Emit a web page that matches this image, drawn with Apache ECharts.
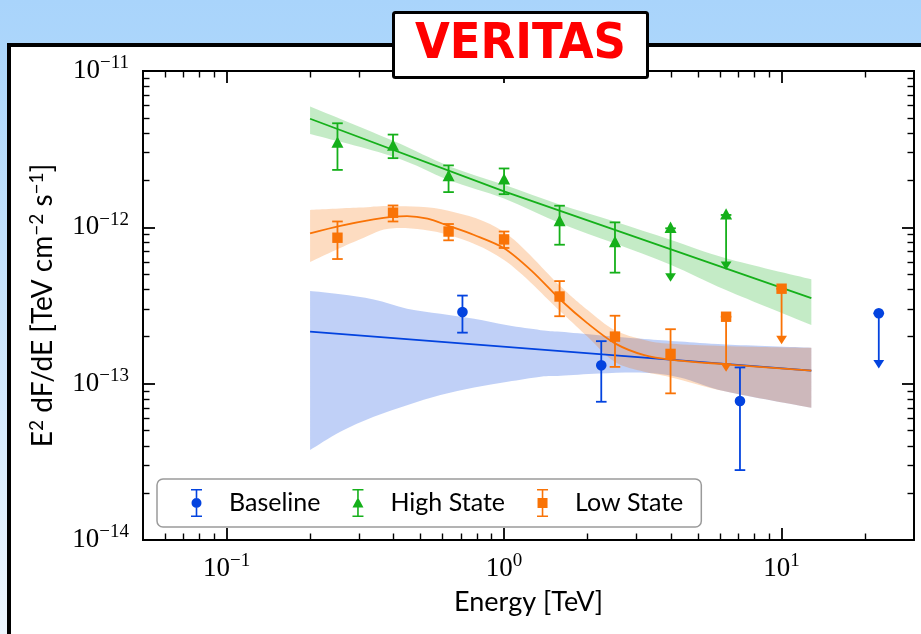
<!DOCTYPE html>
<html><head><meta charset="utf-8">
<script src="https://cdn.jsdelivr.net/npm/echarts@6/dist/echarts.min.js"></script>
<style>
html,body{margin:0;padding:0;}
#wrap{position:relative;width:921px;height:634px;overflow:hidden;background:linear-gradient(to bottom,#a9d4fb 0px,#acd6fb 50px,#eef6fe 634px);}
#frame{position:absolute;left:7px;top:43px;width:960px;height:640px;border:4px solid #000;background:#fff;box-sizing:border-box;}
#chart{position:absolute;left:0;top:0;width:921px;height:634px;}
</style></head>
<body><div id="wrap"><div id="frame"></div><div id="chart"></div></div>
<script>
// ---------------- data (energy in TeV, E^2 dF/dE in TeV cm^-2 s^-1) ----------------
// Baseline (blue)
const baseE    = [0.708, 2.24, 7.08];
const baseF    = [2.87e-13, 1.31e-13, 7.74e-14];
const baseLo   = [2.12e-13, 7.66e-14, 2.8e-14];
const baseHi   = [3.66e-13, 1.87e-13, 1.27e-13];
const baseUlE  = [22.4];
const baseUl   = [2.82e-13];
const baseUlTip= [1.25e-13];
// High State (green)
const highE    = [0.251, 0.398, 0.631, 1.0, 1.585, 2.51];
const highF    = [3.45e-12, 3.31e-12, 2.11e-12, 2.01e-12, 1.088e-12, 7.98e-13];
const highLo   = [2.33e-12, 2.77e-12, 1.68e-12, 1.63e-12, 7.74e-13, 5.13e-13];
const highHi   = [4.63e-12, 3.92e-12, 2.49e-12, 2.38e-12, 1.375e-12, 1.076e-12];
const highUlE  = [3.98, 6.31];
const highUl   = [9.86e-13, 1.2e-12];
const highUlTip= [4.49e-13, 5.33e-13];
// Low State (orange)
const lowE     = [0.251, 0.398, 0.631, 1.0, 1.585, 2.51, 3.98];
const lowF     = [8.58e-13, 1.24e-12, 9.4e-13, 8.37e-13, 3.61e-13, 2.0e-13, 1.55e-13];
const lowLo    = [6.27e-13, 1.09e-12, 8.26e-13, 7.38e-13, 2.70e-13, 1.28e-13, 8.67e-14];
const lowHi    = [1.09e-12, 1.38e-12, 1.05e-12, 9.4e-13, 4.53e-13, 2.72e-13, 2.23e-13];
const lowUlE   = [6.31, 10.0];
const lowUl    = [2.68e-13, 4.05e-13];
const lowUlTip = [1.19e-13, 1.79e-13];

// fitted models
const baseFitE = [0.2, 12.8];
const baseFitF = [2.153e-13, 1.21e-13];
const highFitE = [0.2, 1.0, 12.8];
const highFitF = [4.95e-12, 1.70e-12, 3.52e-13];
const lowFitE  = [0.2, 0.257, 0.339, 0.4, 0.447, 0.53, 0.63, 0.78, 1.0, 1.26, 1.6, 2.0, 2.51, 3.2, 4.0, 6.3, 12.8];
const lowFitF  = [9.16e-13, 1.023e-12, 1.125e-12, 1.17e-12, 1.18e-12, 1.135e-12, 1.023e-12, 8.93e-13, 7.35e-13, 5.25e-13, 3.43e-13, 2.43e-13, 1.81e-13, 1.52e-13, 1.42e-13, 1.33e-13, 1.21e-13];

// confidence bands
const baseBandE  = [0.2, 0.257, 0.339, 0.447, 0.59, 0.78, 1.03, 1.355, 1.6, 2.2, 3.2, 4.3, 6.3, 12.8];
const baseBandHi = [3.908e-13, 3.73e-13, 3.46e-13, 3.02e-13, 2.80e-13, 2.60e-13, 2.36e-13, 2.20e-13, 2.148e-13, 2.04e-13, 1.93e-13, 1.86e-13, 1.78e-13, 1.698e-13];
const baseBandLo = [3.758e-14, 4.92e-14, 6.14e-14, 7.29e-14, 8.45e-14, 9.46e-14, 1.028e-13, 1.107e-13, 1.122e-13, 1.161e-13, 1.175e-13, 1.096e-13, 8.91e-14, 7.015e-14];
const highBandE  = [0.2, 0.4, 0.63, 1.0, 1.6, 2.5, 4.0, 6.3, 12.8];
const highBandHi = [5.92e-12, 3.56e-12, 2.47e-12, 1.87e-12, 1.39e-12, 1.09e-12, 8.30e-13, 6.34e-13, 4.65e-13];
const highBandLo = [3.95e-12, 2.83e-12, 2.01e-12, 1.53e-12, 1.06e-12, 7.91e-13, 5.74e-13, 3.97e-13, 2.37e-13];
const lowBandE   = [0.2, 0.3, 0.4, 0.63, 1.0, 1.6, 2.0, 2.5, 3.2, 4.0, 6.3, 12.8];
const lowBandHi  = [1.29e-12, 1.337e-12, 1.368e-12, 1.279e-12, 9.333e-13, 4.178e-13, 2.958e-13, 2.203e-13, 1.905e-13, 1.799e-13, 1.738e-13, 1.698e-13];
const lowBandLo  = [5.998e-13, 8.318e-13, 9.863e-13, 8.933e-13, 6.18e-13, 2.884e-13, 1.995e-13, 1.38e-13, 1.191e-13, 1.096e-13, 8.91e-14, 7.015e-14];

// axes ticks
const xMajorTicks = [0.1, 1, 10];
const xTickExps   = ['−1', '0', '1'];
const xMinorTicks = [0.06, 0.07, 0.08, 0.09, 0.2, 0.3, 0.4, 0.5, 0.6, 0.7, 0.8, 0.9, 2, 3, 4, 5, 6, 7, 8, 9, 20];
const yMajorTicks = [1e-14, 1e-13, 1e-12, 1e-11];
const yTickExps   = ['−14', '−13', '−12', '−11'];
const yMinorTicks = [2e-14,3e-14,4e-14,5e-14,6e-14,7e-14,8e-14,9e-14,2e-13,3e-13,4e-13,5e-13,6e-13,7e-13,8e-13,9e-13,2e-12,3e-12,4e-12,5e-12,6e-12,7e-12,8e-12,9e-12];

// ---------------- styles ----------------
const C_BASE = '#0343df', C_HIGH = '#15b01a', C_LOW = '#f97306';
const serif = 'Liberation Serif';
const sans = 'Lato';
const tickRich = {
  b: {fontFamily: serif, fontSize: 27, lineHeight: 34, color: '#000'},
  s: {fontFamily: serif, fontSize: 19, lineHeight: 18, verticalAlign: 'top', color: '#000'}
};
function nearestIdx(arr, v) {
  let best = 0, bd = Infinity;
  arr.forEach((a, i) => { const d = Math.abs(Math.log10(a) - Math.log10(v)); if (d < bd) { bd = d; best = i; } });
  return best;
}

function axisX(pos, major, labels) {
  return {
    type: 'log', logBase: 10, min: 0.05, max: 30, position: pos, gridIndex: 0,
    axisLine: {show: true, onZero: false, lineStyle: {color: '#000', width: 1.8}},
    axisTick: {show: true, inside: true, length: major ? 12 : 6.5, lineStyle: {color: '#000', width: major ? 1.8 : 1.4},
               customValues: major ? xMajorTicks : xMinorTicks},
    minorTick: {show: false}, splitLine: {show: false}, minorSplitLine: {show: false},
    axisLabel: labels ? {show: true, customValues: xMajorTicks, margin: 12,
      formatter: v => '{b|10}{s|' + xTickExps[nearestIdx(xMajorTicks, v)] + '}', rich: tickRich} : {show: false}
  };
}
function axisY(pos, major, labels) {
  return {
    type: 'log', logBase: 10, min: 1e-14, max: 1e-11, position: pos, gridIndex: 0,
    axisLine: {show: true, onZero: false, lineStyle: {color: '#000', width: 1.8}},
    axisTick: {show: true, inside: true, length: major ? 12 : 6.5, lineStyle: {color: '#000', width: major ? 1.8 : 1.4},
               customValues: major ? yMajorTicks : yMinorTicks},
    minorTick: {show: false}, splitLine: {show: false}, minorSplitLine: {show: false},
    axisLabel: labels ? {show: true, customValues: yMajorTicks, margin: 14,
      formatter: v => '{b|10}{s|' + yTickExps[nearestIdx(yMajorTicks, v)] + '}', rich: tickRich} : {show: false}
  };
}

const xAxes = [axisX('bottom', true, true), axisX('bottom', false, false), axisX('top', true, false), axisX('top', false, false)];
const yAxes = [axisY('left', true, true), axisY('left', false, false), axisY('right', true, false), axisY('right', false, false)];
Object.assign(xAxes[0], {
  name: 'Energy [TeV]', nameLocation: 'middle', nameGap: 49,
  nameTextStyle: {fontFamily: sans, fontSize: 27, color: '#000'}
});
Object.assign(yAxes[0], {
  name: '{t|E}{s|2}{t| dF/dE [TeV cm}{s|−2}{t| s}{s|−1}{t|]}', nameLocation: 'middle', nameGap: 84, nameRotate: 90,
  nameTextStyle: {rich: {
    t: {fontFamily: sans, fontSize: 28, lineHeight: 32, color: '#000'},
    s: {fontFamily: sans, fontSize: 19, lineHeight: 19, verticalAlign: 'top', color: '#000'}
  }}
});

// ---------------- series builders ----------------
function zip(...arrs) { return arrs[0].map((_, i) => arrs.map(a => a[i])); }

// smooth (Catmull-Rom) outline through the projected pixel positions
function curveCmd(pts) {
  let d = '';
  for (let i = 0; i < pts.length - 1; i++) {
    const p0 = pts[Math.max(i - 1, 0)], p1 = pts[i], p2 = pts[i + 1], p3 = pts[Math.min(i + 2, pts.length - 1)];
    const c1x = p1[0] + (p2[0] - p0[0]) / 6, c1y = p1[1] + (p2[1] - p0[1]) / 6;
    const c2x = p2[0] - (p3[0] - p1[0]) / 6, c2y = p2[1] - (p3[1] - p1[1]) / 6;
    d += 'C' + c1x + ',' + c1y + ' ' + c2x + ',' + c2y + ' ' + p2[0] + ',' + p2[1] + ' ';
  }
  return d;
}
function bandSeries(id, E, lo, hi, color, op) {
  const data = zip(E, lo, hi);
  return {
    type: 'custom', id, silent: true, z: 1, data, encode: {x: 0, y: [1, 2]},
    renderItem(params, api) {
      if (params.dataIndex !== 0) return null;
      const up = data.map(d => api.coord([d[0], d[2]]));
      const dn = data.map(d => api.coord([d[0], d[1]])).reverse();
      const pd = 'M' + up[0][0] + ',' + up[0][1] + ' ' + curveCmd(up) +
                 'L' + dn[0][0] + ',' + dn[0][1] + ' ' + curveCmd(dn) + 'Z';
      return {type: 'path', shape: {pathData: pd}, style: {fill: color, opacity: op}};
    }
  };
}
function lineSeries(id, E, F, color, smooth) {
  return {type: 'line', id, data: zip(E, F), showSymbol: false, smooth: smooth, z: 2, silent: true,
    lineStyle: {color, width: 1.8}, itemStyle: {color}};
}
function markerShape(sym, x, y, color) {
  if (sym === 'circle') return {type: 'circle', shape: {cx: x, cy: y, r: 5.3}, style: {fill: color}};
  if (sym === 'square') return {type: 'rect', shape: {x: x - 5.2, y: y - 5.2, width: 10.4, height: 10.4}, style: {fill: color}};
  return {type: 'polygon', shape: {points: [[x, y - 6.8], [x + 6, y + 4.6], [x - 6, y + 4.6]]}, style: {fill: color}};
}
function errSeries(name, E, F, lo, hi, color, sym) {
  return {
    type: 'custom', name, z: 3, data: zip(E, F, lo, hi), encode: {x: 0, y: [1, 2, 3]},
    itemStyle: {color},
    renderItem(params, api) {
      const p = api.coord([api.value(0), api.value(1)]);
      const a = api.coord([api.value(0), api.value(2)]);
      const b = api.coord([api.value(0), api.value(3)]);
      const st = {stroke: color, lineWidth: 1.8};
      return {type: 'group', children: [
        {type: 'line', shape: {x1: p[0], y1: a[1], x2: p[0], y2: b[1]}, style: st},
        {type: 'line', shape: {x1: p[0] - 5.3, y1: a[1], x2: p[0] + 5.3, y2: a[1]}, style: st},
        {type: 'line', shape: {x1: p[0] - 5.3, y1: b[1], x2: p[0] + 5.3, y2: b[1]}, style: st},
        markerShape(sym, p[0], p[1], color)
      ]};
    }
  };
}
function ulSeries(id, E, UL, tip, color, sym) {
  return {
    type: 'custom', id, z: 3, data: zip(E, UL, tip), encode: {x: 0, y: [1, 2]},
    renderItem(params, api) {
      const p = api.coord([api.value(0), api.value(1)]);
      const t = api.coord([api.value(0), api.value(2)]);
      const st = {stroke: color, lineWidth: 1.8};
      return {type: 'group', children: [
        {type: 'line', shape: {x1: p[0], y1: p[1], x2: p[0], y2: t[1] - 6}, style: st},
        {type: 'line', shape: {x1: p[0] - 5.3, y1: p[1], x2: p[0] + 5.3, y2: p[1]}, style: st},
        {type: 'polygon', shape: {points: [[p[0] - 5.4, t[1] - 8.5], [p[0] + 5.4, t[1] - 8.5], [p[0], t[1]]]}, style: {fill: color}},
        markerShape(sym, p[0], p[1], color)
      ]};
    }
  };
}

const iconStem = 'M0,0H11V1.6H0Z M0,26.4H11V28H0Z M4.7,0H6.3V28H4.7Z ';
const iconCircle = 'path://' + iconStem + 'M0.5,14A5,5 0 1 1 10.5,14A5,5 0 1 1 0.5,14Z';
const iconTri = 'path://' + iconStem + 'M5.5,8.2L11,18.6H0Z';
const iconSq = 'path://' + iconStem + 'M0.5,9H10.5V19H0.5Z';

const chart = echarts.init(document.getElementById('chart'), null, {renderer: 'canvas'});
chart.setOption({
  backgroundColor: 'transparent',
  animation: false,
  title: {
    text: 'VERITAS', left: 393, top: 12, padding: [4, 22, 4, 22],
    backgroundColor: '#fff', borderColor: '#000', borderWidth: 3, borderRadius: 2,
    textStyle: {color: '#ff0000', fontSize: 50, fontWeight: 'bold', fontFamily: 'DejaVu Sans Condensed', lineHeight: 58}
  },
  grid: {left: 143, top: 71, width: 771, height: 469, containLabel: false, outerBoundsMode: 'none'},
  xAxis: xAxes,
  yAxis: yAxes,
  legend: {
    left: 157, top: 479, orient: 'horizontal', selectedMode: false,
    padding: [10, 18, 10, 34], itemGap: 32, itemWidth: 11, itemHeight: 28,
    backgroundColor: '#fff', borderColor: '#9a9a9a', borderWidth: 1.5, borderRadius: 6,
    textStyle: {fontFamily: sans, fontSize: 25, color: '#000', padding: [0, 0, 0, 22]},
    data: [{name: 'Baseline', icon: iconCircle}, {name: 'High State', icon: iconTri}, {name: 'Low State', icon: iconSq}]
  },
  series: [
    bandSeries('baseBand', baseBandE, baseBandLo, baseBandHi, C_BASE, 0.25),
    bandSeries('highBand', highBandE, highBandLo, highBandHi, C_HIGH, 0.25),
    bandSeries('lowBand', lowBandE, lowBandLo, lowBandHi, C_LOW, 0.25),
    lineSeries('baseFit', baseFitE, baseFitF, C_BASE, false),
    lineSeries('highFit', highFitE, highFitF, C_HIGH, false),
    lineSeries('lowFit', lowFitE, lowFitF, C_LOW, 0.3),
    errSeries('Baseline', baseE, baseF, baseLo, baseHi, C_BASE, 'circle'),
    errSeries('High State', highE, highF, highLo, highHi, C_HIGH, 'triangle'),
    errSeries('Low State', lowE, lowF, lowLo, lowHi, C_LOW, 'square'),
    ulSeries('baseUL', baseUlE, baseUl, baseUlTip, C_BASE, 'circle'),
    ulSeries('highUL', highUlE, highUl, highUlTip, C_HIGH, 'triangle'),
    ulSeries('lowUL', lowUlE, lowUl, lowUlTip, C_LOW, 'square')
  ]
});
</script>
</body></html>
